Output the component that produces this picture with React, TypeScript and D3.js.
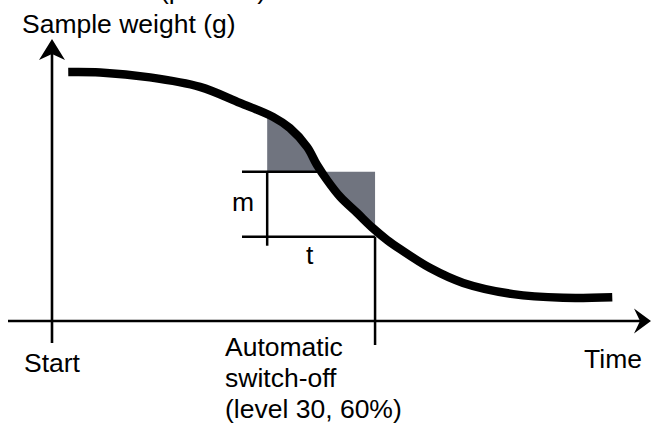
import React from "react";
import * as d3 from "d3";

// Curve (time %, weight %)
const timeValues = [2.8, 8.3, 16.9, 25.5, 32.4, 38.1, 41, 44, 45.7, 47.4, 49.7, 52.6, 55.3, 57.8, 60, 65.2, 70.9, 79.5, 88.1, 96.6];
const weightValues = [88.9, 88.75, 87, 83.6, 77.9, 72.9, 68.9, 62.1, 55.7, 50.4, 44.3, 38.6, 33.2, 28.9, 25.7, 18.9, 13.6, 9.6, 8.3, 8.5];

// Reference levels
const levelTop = 53.3; // upper m line
const levelBottom = 30.1; // lower m line
const tStart = 37.1;
const tEnd = 55.7;
const crossTime = 46.5; // where curve crosses the upper level

const topLabel = "Moisture content (percent)";
const yLabel = "Sample weight (g)";
const xLabel = "Time";
const startLabel = "Start";
const switchLabel = ["Automatic", "switch-off", "(level 30, 60%)"];
const mLabel = "m";
const tLabel = "t";

const W = 651;
const H = 424;
const FONT = "'Liberation Sans', Arial, Helvetica, sans-serif";

export default function App() {
  const x = d3.scaleLinear().domain([0, 100]).range([52, 632]);
  const y = d3.scaleLinear().domain([0, 100]).range([321, 41]);
  const pts = timeValues.map((t, i) => ({ t, w: weightValues[i] }));

  const curve = d3.curveCatmullRom.alpha(0.5);
  const line = d3
    .line<{ t: number; w: number }>()
    .x((d) => x(d.t))
    .y((d) => y(d.w))
    .curve(curve);
  const area = d3
    .area<{ t: number; w: number }>()
    .x((d) => x(d.t))
    .y0(y(levelTop))
    .y1((d) => y(d.w))
    .curve(curve);

  const x0 = x(0);
  const y0 = y(0);
  const axisW = 2.6;
  const fs = 26.5;

  return (
    <svg
      width={W}
      height={H}
      style={{ position: "absolute", left: 0, top: 0, background: "#fff" }}
      fontFamily={FONT}
    >
      <defs>
        <clipPath id="shadeClip">
          <rect x={x(tStart)} y={0} width={x(tEnd) - x(tStart)} height={H} />
        </clipPath>
      </defs>
      <rect width={W} height={H} fill="#fff" />

      {/* shaded area between curve and upper level */}
      <path d={area(pts) || ""} fill="#70747f" clipPath="url(#shadeClip)" />

      {/* m / t reference lines */}
      <g stroke="#000" strokeWidth={2.5} fill="none">
        <line x1={242} x2={x(crossTime)} y1={y(levelTop)} y2={y(levelTop)} />
        <line x1={242} x2={x(tEnd)} y1={y(levelBottom)} y2={y(levelBottom)} />
        <line x1={x(tStart)} x2={x(tStart)} y1={y(levelTop)} y2={y(levelBottom) + 9} />
        <line x1={x(tEnd)} x2={x(tEnd)} y1={y(levelBottom)} y2={345} />
      </g>

      {/* axes */}
      <g stroke="#000" strokeWidth={axisW} fill="none">
        <line x1={x0} x2={x0} y1={52} y2={343} />
        <line x1={8} x2={642} y1={y0} y2={y0} />
      </g>
      <path
        d={`M${x0},${39} L${x0 + 13},${60} L${x0},${54} L${x0 - 13},${60} Z`}
        fill="#000"
      />
      <path
        d={`M${651},${y0} L${634},${y0 - 12.5} L${640},${y0} L${634},${y0 + 12.5} Z`}
        fill="#000"
      />

      {/* curve */}
      <path d={line(pts) || ""} fill="none" stroke="#000" strokeWidth={8.5} strokeLinecap="butt" />

      {/* texts */}
      <g fill="#000" fontSize={fs}>
        <text x={266} y={-1.5} textAnchor="end">{topLabel}</text>
        <text x={22} y={33}>{yLabel}</text>
        <text x={232} y={211}>{mLabel}</text>
        <text x={306} y={264}>{tLabel}</text>
        <text x={24} y={372}>{startLabel}</text>
        <text x={642} y={368} textAnchor="end">{xLabel}</text>
        {switchLabel.map((s, i) => (
          <text key={i} x={225} y={356 + i * 31}>{s}</text>
        ))}
      </g>
    </svg>
  );
}
